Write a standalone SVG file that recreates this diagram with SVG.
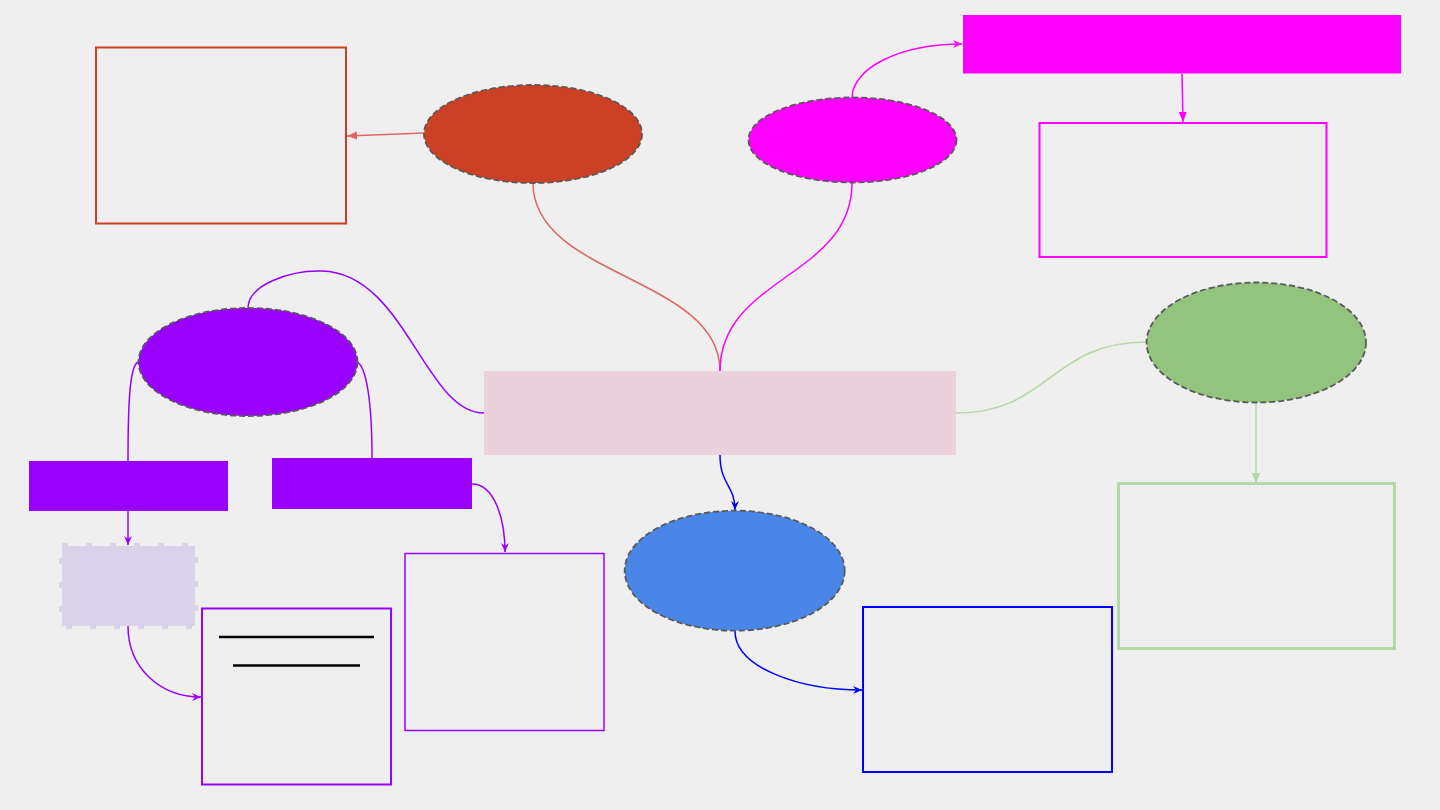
<svg xmlns="http://www.w3.org/2000/svg" width="1440" height="810" viewBox="0 0 1440 810">
<defs>
<style>
.ell{stroke:#595959;stroke-width:1.8;stroke-dasharray:6 3}
.con{fill:none;stroke-width:1.5}
.box{fill:#eeeeee}
</style>
<marker id="vPurple" markerUnits="userSpaceOnUse" viewBox="0 0 10 10" refX="10" refY="5" markerWidth="10" markerHeight="10" orient="auto"><path d="M1,1 L10,5 L1,9 L4,5 Z" fill="#9900ff"/></marker>
<marker id="vBlue" markerUnits="userSpaceOnUse" viewBox="0 0 10 10" refX="10" refY="5" markerWidth="10" markerHeight="10" orient="auto"><path d="M1,1 L10,5 L1,9 L4,5 Z" fill="#0000ff"/></marker>
<marker id="vMag" markerUnits="userSpaceOnUse" viewBox="0 0 10 10" refX="10" refY="5" markerWidth="10" markerHeight="10" orient="auto"><path d="M1,1 L10,5 L1,9 L4,5 Z" fill="#ff00ff"/></marker>
<marker id="tMag" markerUnits="userSpaceOnUse" viewBox="0 0 10 10" refX="10" refY="5" markerWidth="10" markerHeight="10" orient="auto"><path d="M0,1 L10,5 L0,9 Z" fill="#ff00ff"/></marker>
<marker id="tRed" markerUnits="userSpaceOnUse" viewBox="0 0 10 10" refX="10" refY="5" markerWidth="10" markerHeight="10" orient="auto"><path d="M0,1 L10,5 L0,9 Z" fill="#e06666"/></marker>
<marker id="tGreen" markerUnits="userSpaceOnUse" viewBox="0 0 10 10" refX="10" refY="5" markerWidth="10" markerHeight="10" orient="auto"><path d="M0,1 L10,5 L0,9 Z" fill="#b6d7a8"/></marker>
</defs>
<rect x="0" y="0" width="1440" height="810" fill="#efefef"/>
<g id="connectors">
<path class="con" stroke="#e06666" d="M533,183 C533,277 720,277 720,371"/>
<path class="con" stroke="#ff00ff" d="M852,183 C852,277 720,277 720,371"/>
<path class="con" stroke="#e06666" marker-end="url(#tRed)" d="M424,133 L347,136"/>
<path class="con" stroke="#ff00ff" marker-end="url(#vMag)" d="M852,98 C852,68 900,44 962,44"/>
<path class="con" stroke="#ff00ff" marker-end="url(#tMag)" d="M1182,74 L1183,122"/>
<path class="con" stroke="#9900ff" d="M248,308 C248,285 290,270 322,271 C405,273 425,413 484,413"/>
<path class="con" stroke="#9900ff" d="M138,362 C130,366 128,400 128,461"/>
<path class="con" stroke="#9900ff" d="M357,362 C366,366 372,400 372,458"/>
<path class="con" stroke="#9900ff" marker-end="url(#vPurple)" d="M128,511 L128,545"/>
<path class="con" stroke="#9900ff" marker-end="url(#vPurple)" d="M128,626 C128,668 160,697 201,697"/>
<path class="con" stroke="#9900ff" marker-end="url(#vPurple)" d="M472,484 C494,484 505,518 505,552"/>
<path class="con" stroke="#0000ff" marker-end="url(#vBlue)" d="M720,455 C720,485 735,485 735,510"/>
<path class="con" stroke="#0000ff" marker-end="url(#vBlue)" d="M735,631 C735,668 800,690 862,690"/>
<path class="con" stroke="#b6d7a8" d="M956,413 C1050,413 1050,342 1147,342"/>
<path class="con" stroke="#b6d7a8" marker-end="url(#tGreen)" d="M1256,402 L1256,483"/>
</g>
<g id="central"><rect x="484" y="371" width="472" height="84" fill="#ead1dc"/></g>
<g id="redEllipse"><ellipse class="ell" cx="533" cy="134" rx="109" ry="49" fill="#cc4125"/></g>
<g id="redBox"><rect class="box" x="96" y="47.5" width="250" height="176" stroke="#cc4125" stroke-width="2"/></g>
<g id="magEllipse"><ellipse class="ell" cx="852.5" cy="140" rx="104" ry="42.5" fill="#ff00ff"/></g>
<g id="magRect"><rect x="963" y="15" width="438" height="58.5" fill="#ff00ff"/></g>
<g id="magBox"><rect class="box" x="1039.5" y="123" width="287" height="134" stroke="#ff00ff" stroke-width="2"/></g>
<g id="purpleEllipse"><ellipse class="ell" cx="248" cy="362" rx="109.5" ry="54" fill="#9900ff"/></g>
<g id="purpleRect1"><rect x="29" y="461" width="199" height="50" fill="#9900ff"/></g>
<g id="purpleRect2"><rect x="272" y="458" width="200" height="51" fill="#9900ff"/></g>
<g id="lavenderBox"><rect x="62" y="546" width="133" height="80" fill="#d9d2e9" stroke="#d9d2e9" stroke-width="6" stroke-dasharray="6 18"/></g>
<g id="purpleBox1"><rect class="box" x="202" y="608.5" width="189" height="176" stroke="#9900ff" stroke-width="2"/>
<line x1="219" y1="637" x2="374" y2="637" stroke="#000" stroke-width="2.5"/>
<line x1="233" y1="665.5" x2="360" y2="665.5" stroke="#000" stroke-width="2.5"/></g>
<g id="purpleBox2"><rect class="box" x="405" y="553.5" width="199" height="177" stroke="#9900ff" stroke-width="1.5"/></g>
<g id="blueEllipse"><ellipse class="ell" cx="734.7" cy="570.7" rx="110" ry="60" fill="#4a86e8"/></g>
<g id="blueBox"><rect class="box" x="863" y="607" width="249" height="165" stroke="#0000ff" stroke-width="2"/></g>
<g id="greenEllipse"><ellipse class="ell" cx="1256.3" cy="342.5" rx="109.7" ry="60" fill="#93c47d"/></g>
<g id="greenBox"><rect class="box" x="1118.5" y="483.5" width="276" height="165" stroke="#b6d7a8" stroke-width="3"/></g>
</svg>
